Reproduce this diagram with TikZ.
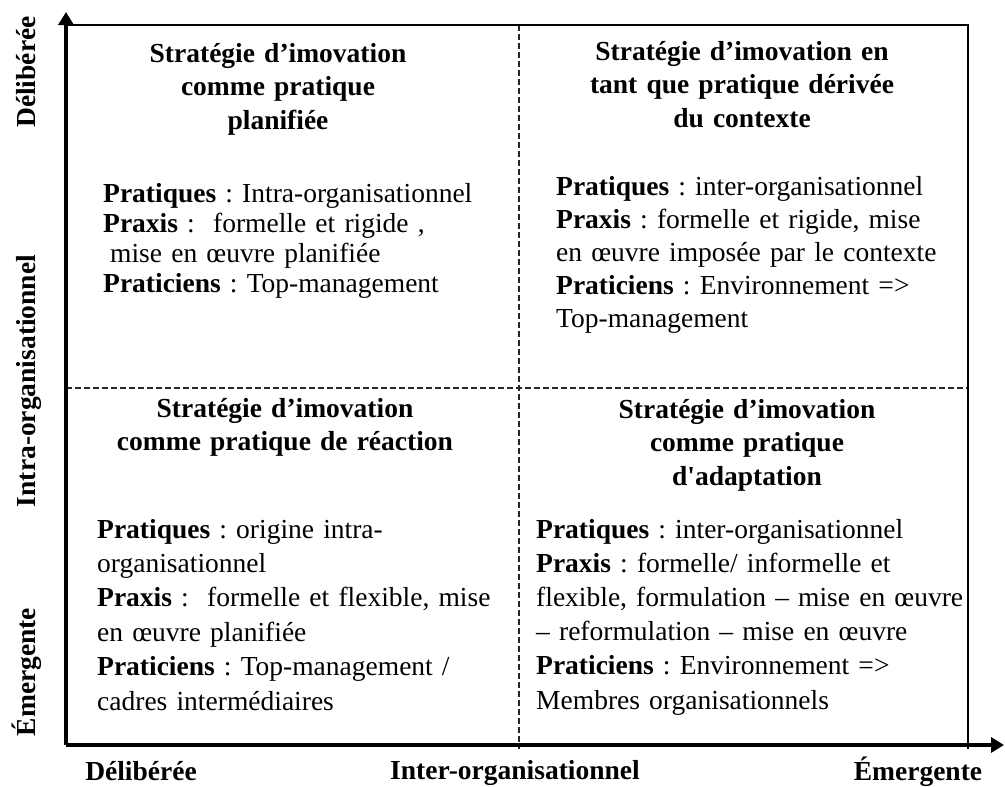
\documentclass[tikz,border=0pt]{standalone}
\usepackage{fontspec}
\setmainfont{Liberation Serif}
\usepackage{tikz}
\usetikzlibrary{arrows.meta}
\frenchspacing
\tikzset{
	axe/.style={line width=4pt},
	cadre/.style={line width=1.8pt},
	separ/.style={line width=1.6pt,dash pattern=on 6pt off 3pt,black!85},
	titre/.style={font=\bfseries\fontsize{27.5}{33.5}\selectfont,align=center,text width=440pt,inner sep=0pt,anchor=base},
	corps/.style={font=\fontsize{27.5}{30}\selectfont,align=left,text width=440pt,inner sep=0pt,anchor=base west},
	etiq/.style={font=\bfseries\fontsize{27.5}{33}\selectfont,inner sep=0pt,anchor=base}
}

\begin{document}
\begin{tikzpicture}[x=1pt,y=-1pt,>={Triangle[length=13pt,width=15pt]}]
	\useasboundingbox(0,0)rectangle(1005,787);
	\coordinate(O)at(66,745);\coordinate(Y)at(66,12);\coordinate(X)at(1004,745);
	\coordinate(HG)at(66,25);\coordinate(HD)at(968,25);\coordinate(BD)at(968,749);
	\coordinate(MH)at(519,25);\coordinate(MB)at(519,749);
	\coordinate(MG)at(66,388);\coordinate(MD)at(968,388);
	\draw[separ](MH)--(MB);
	\draw[separ](MG)--(MD);
	\draw[cadre](HG)--(HD)--(BD);
	\draw[axe,->](O)--(Y);
	\draw[axe,->](O)--(X);
	% les quatre strategies
	\node[titre](t1)at(278,62){Stratégie d’imovation\\comme pratique\\planifiée};
	\node[titre](t2)at(742,60){Stratégie d’imovation en\\tant que pratique dérivée\\du contexte};
	\node[titre](t3)at(285,417){Stratégie d’imovation\\comme pratique de réaction};
	\node[titre](t4)at(747,418){Stratégie d’imovation\\comme pratique\\d\textquotesingle adaptation};
	\node[corps](c1)at(103,202){\textbf{Pratiques} : Intra-organisationnel\\\textbf{Praxis} :\ \ formelle et rigide ,\\\hspace*{7pt}mise en œuvre planifiée\\\textbf{Praticiens} : Top-management};
	\node[corps,font=\fontsize{27.5}{33}\selectfont](c2)at(556,195){\textbf{Pratiques} : inter-organisationnel\\\textbf{Praxis} : formelle et rigide, mise\\en œuvre imposée par le contexte\\\textbf{Praticiens} : Environnement =>\\Top-management};
	\node[corps,font=\fontsize{27.5}{34.4}\selectfont](c3)at(97,538){\textbf{Pratiques} : origine intra-\\organisationnel\\\textbf{Praxis} :\ \ formelle et flexible, mise\\en œuvre planifiée\\\textbf{Praticiens} : Top-management /\\cadres intermédiaires};
	\node[corps,font=\fontsize{27.5}{34.2}\selectfont](c4)at(536,538){\textbf{Pratiques} : inter-organisationnel\\\textbf{Praxis} : formelle/ informelle et\\flexible, formulation – mise en œuvre\\– reformulation – mise en œuvre\\\textbf{Praticiens} : Environnement =>\\Membres organisationnels};
	% axes
	\node[etiq,rotate=90](yDel)at(35,72){Délibérée};
	\node[etiq,rotate=90](yIntra)at(35,381){Intra-organisationnel};
	\node[etiq,rotate=90](yEm)at(35,672){Émergente};
	\node[etiq](xDel)at(141,780){Délibérée};
	\node[etiq](xInter)at(515,779){Inter-organisationnel};
	\node[etiq](xEm)at(918,780){Émergente};
\end{tikzpicture}
\end{document}
